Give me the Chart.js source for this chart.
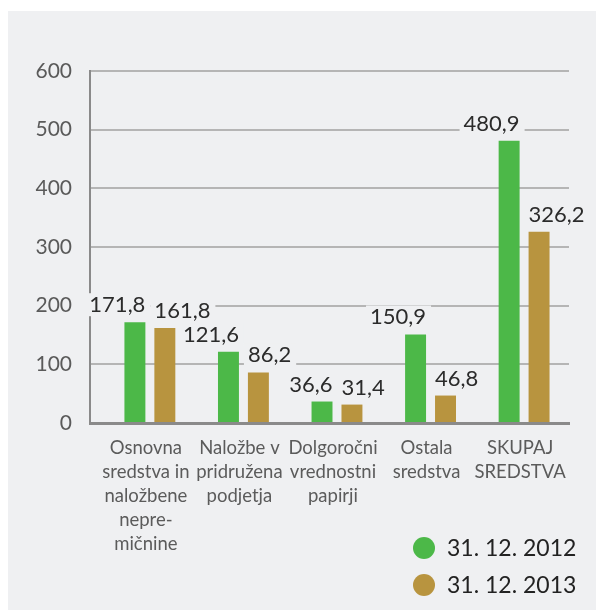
<!DOCTYPE html>
<html>
<head>
<meta charset="utf-8">
<script src="https://cdn.jsdelivr.net/npm/chart.js@4.4.1/dist/chart.umd.min.js"></script>
<style>
    html, body { margin: 0; background: #fff; }
    #panel { position: absolute; left: 8px; top: 11px; width: 588px; height: 599px; background: #eff0f2; }
</style>
</head>
<body>
<div id="panel"><canvas id="assetsChart" width="588" height="599"></canvas></div>
<script>
const categories = [
    ['Osnovna', 'sredstva in', 'naložbene', 'nepre-', 'mičnine'],
    ['Naložbe v', 'pridružena', 'podjetja'],
    ['Dolgoročni', 'vrednostni', 'papirji'],
    ['Ostala', 'sredstva'],
    ['SKUPAJ', 'SREDSTVA'],
];
const values2012 = [171.8, 121.6, 36.6, 150.9, 480.9];
const values2013 = [161.8, 86.2, 31.4, 46.8, 326.2];
const seriesLabels = ['31. 12. 2012', '31. 12. 2013'];
const yTicks = [0, 100, 200, 300, 400, 500, 600];

const PANEL = '#eff0f2';
const GREEN = '#4cb848';
const BROWN = '#b8943f';
const FONT = 'Lato, "Open Sans", sans-serif';

Chart.defaults.font.family = FONT;

const formatValue = (v) => v.toFixed(1).replace('.', ',');

// value above each bar: green ones end at the bar's right edge, brown ones start at the left edge
const valueLabels = {
    id: 'valueLabels',
    afterDatasetsDraw(chart) {
        const { ctx } = chart;
        ctx.save();
        ctx.font = `22px ${FONT}`;
        ctx.textBaseline = 'alphabetic';
        ctx.textAlign = 'left';
        chart.data.datasets.forEach((ds, di) => {
            chart.getDatasetMeta(di).data.forEach((bar, i) => {
                const { x, y, width } = bar.getProps(['x', 'y', 'width'], true);
                const text = formatValue(ds.data[i]);
                const w = ctx.measureText(text).width;
                const left = di === 0 ? x + width / 2 - w : x - width / 2;
                const base = y - 10;
                ctx.fillStyle = PANEL;
                ctx.fillRect(left - 4, base - 19, w + 9, 23);
                ctx.fillStyle = '#2b2b2b';
                ctx.fillText(text, left, base);
            });
        });
        ctx.restore();
    },
};

// stacked legend in the bottom right corner
const sideLegend = {
    id: 'sideLegend',
    afterDraw(chart) {
        const { ctx } = chart;
        ctx.save();
        ctx.font = `23px ${FONT}`;
        ctx.textBaseline = 'middle';
        ctx.textAlign = 'left';
        chart.data.datasets.forEach((ds, i) => {
            const cx = chart.width - 172;
            const cy = chart.height - 62 + i * 37;
            ctx.fillStyle = ds.backgroundColor;
            ctx.beginPath();
            ctx.arc(cx, cy, 11, 0, Math.PI * 2);
            ctx.fill();
            ctx.fillStyle = '#222';
            ctx.fillText(ds.label, cx + 23, cy + 1);
        });
        ctx.restore();
    },
};

new Chart(document.getElementById('assetsChart'), {
    type: 'bar',
    data: {
        labels: categories.map((_, i) => i),
        datasets: [
            { label: seriesLabels[0], data: values2012, backgroundColor: GREEN },
            { label: seriesLabels[1], data: values2013, backgroundColor: BROWN },
        ],
    },
    options: {
        responsive: false,
        animation: false,
        categoryPercentage: 0.64,
        barPercentage: 0.7,
        layout: { padding: { top: 60, right: 27, left: 0, bottom: 0 } },
        plugins: { legend: { display: false }, tooltip: { enabled: false } },
        scales: {
            x: {
                type: 'linear',
                offset: false,
                min: -0.64,
                max: 4.48,
                afterBuildTicks: (s) => { s.ticks = categories.map((_, i) => ({ value: i })); },
                afterFit: (s) => { s.height = 187; },
                grid: { display: false, drawTicks: false },
                border: { color: '#8a8a8a', width: 3 },
                ticks: {
                    autoSkip: false,
                    maxRotation: 0,
                    padding: 13,
                    labelOffset: -4,
                    color: '#5b5b5b',
                    font: { size: 18.5, lineHeight: '24px' },
                    callback: (v, i) => categories[i],
                },
            },
            y: {
                min: 0,
                max: 600,
                afterBuildTicks: (s) => { s.ticks = yTicks.map((v) => ({ value: v })); },
                afterFit: (s) => { s.width = 82; },
                grid: { color: '#b5b5b5', lineWidth: 2, drawTicks: false },
                border: { color: '#8a8a8a', width: 2 },
                ticks: { padding: 18, color: '#5a5a5a', font: { size: 21 } },
            },
        },
    },
    plugins: [valueLabels, sideLegend],
});
</script>
</body>
</html>
